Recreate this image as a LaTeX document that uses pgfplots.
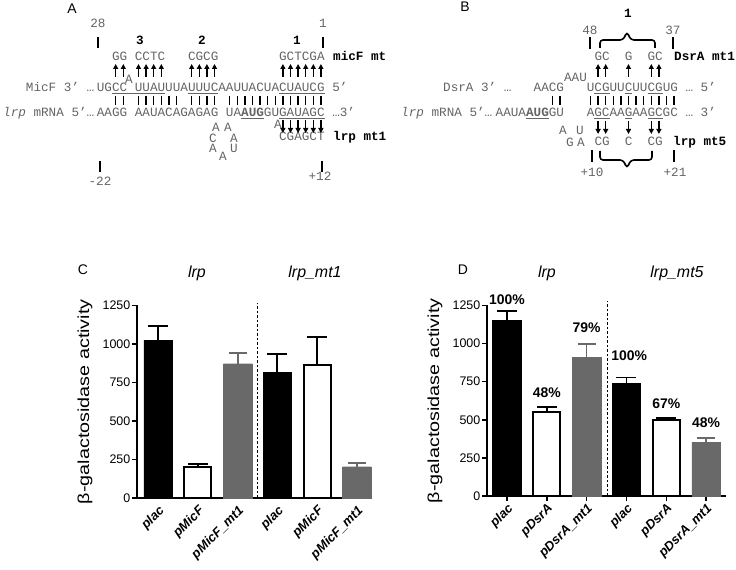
\documentclass[border=0pt]{standalone}
\usepackage{fontspec}
\setmainfont{Liberation Sans}
\setmonofont{Liberation Mono}
\usepackage{graphicx}
\usepackage{pgfplots}
\pgfplotsset{compat=1.18}
\usetikzlibrary{arrows.meta}
\definecolor{seqgray}{RGB}{100,100,100}
\definecolor{bargray}{RGB}{105,105,105}
\newcommand{\sq}{\ttfamily\fontsize{12.7}{14}\selectfont}
\tikzset{upar/.style={line width=1.4bp,-{Triangle[length=5bp,width=5bp]}},
         pair/.style={line width=1.5bp}}
\pgfplotsset{
  barax/.style={scale only axis, anchor=south west, ymin=0, ymax=1250,
    axis x line=bottom, axis y line=left, axis line style={-, line width=1.6bp},
    ytick={0,250,500,750,1000,1250}, xtick={0,...,5},
    tick align=outside, major tick length=5bp,
    ytick style={line width=1.5bp, black},
    x tick label style={rotate=45, anchor=north east, inner sep=1bp,
      font=\fontsize{13}{15}\selectfont\bfseries\itshape},
    y tick label style={inner sep=1.5bp, font=\fontsize{12.5}{14}\selectfont},
    /pgf/number format/assume math mode=true,
    /pgf/number format/set thousands separator={},
    clip=false,
    ylabel={\scalebox{1.24}[1]{β-galactosidase activity}},
    ylabel style={font=\fontsize{16}{18}\selectfont, anchor=center},
  },
  barblack/.style={ybar, bar width=28.5bp, bar shift=0pt, fill=black, draw=black,
    error bars/.cd, y dir=plus, y explicit,
    error bar style={line width=1.8bp, black},
    error mark options={rotate=90, line width=1.8bp, mark size=10bp, black}},
  barwhite/.style={ybar, bar width=27bp, bar shift=0pt, fill=white, draw=black, line width=2bp,
    error bars/.cd, y dir=plus, y explicit,
    error bar style={line width=1.8bp, black},
    error mark options={rotate=90, line width=1.8bp, mark size=10bp, black}},
  bargrey/.style={ybar, bar width=28.5bp, bar shift=0pt, fill=bargray, draw=bargray,
    error bars/.cd, y dir=plus, y explicit,
    error bar style={line width=1.8bp, bargray},
    error mark options={rotate=90, line width=1.8bp, mark size=9bp, bargray}},
}
\begin{document}
\begin{tikzpicture}
\useasboundingbox (0,0) rectangle (736bp,570bp);
\begin{scope}[shift={(0bp,570bp)}, x=1bp, y=-1bp]
 \node[font=\fontsize{14}{16}\selectfont] at (72,9) {A};
 \node[font=\fontsize{14}{16}\selectfont] at (465,7) {B};
 \node[font=\fontsize{14}{16}\selectfont] at (83,270) {C};
 \node[font=\fontsize{14}{16}\selectfont] at (463,270) {D};
 \node[font=\fontsize{16}{18}\selectfont\itshape] at (197,273) {lrp};
 \node[font=\fontsize{16}{18}\selectfont\itshape] at (315,273) {lrp\_mt1};
 \node[font=\fontsize{16}{18}\selectfont\itshape] at (547,273) {lrp};
 \node[font=\fontsize{16}{18}\selectfont\itshape] at (677,273) {lrp\_mt5};
 % ---------- Panel A ----------
 \begin{scope}[every node/.style={inner sep=0, text=seqgray, font=\sq}]
  \node at (98,23) {28};
  \node at (323,23) {1};
  \node[text=black, font=\sq\bfseries] at (140,40) {3};
  \node[text=black, font=\sq\bfseries] at (202,40) {2};
  \node[text=black, font=\sq\bfseries] at (297,40) {1};
  \node[anchor=base west] at (96.7,61) {~~GG~CCTC~~~CGCG~~~~~~~~GCTCGA};
  \node[anchor=base west, text=black, font=\sq\bfseries] at (333,61) {micF mt};
  \node at (129,79) {A};
  \node[anchor=base east] at (94.5,92) {MicF~3’~…};
  \node[anchor=base west] at (96.7,92) {UG\underline{CC~UUAU}UUA\underline{UUUC}AAUUACUA\underline{CUAUCG}~5’};
  \node[anchor=base east] at (94.5,116.5) {\textit{lrp}~mRNA~5’…};
  \node[anchor=base west] at (96.7,116.5) {AAGG~AAUACAGAGAG~UA\underline{\textbf{AUG}}GU\underline{GAUAGC}~…3’};
  \node at (216,127) {A}; \node at (228,127) {A};
  \node at (213,138) {C}; \node at (234,138) {A};
  \node at (213,148) {A}; \node at (223,156) {A}; \node at (234,148) {U};
  \node at (278,124) {A};
  \node[anchor=base west] at (96.7,141) {~~~~~~~~~~~~~~~~~~~~~~~~CGAGCT};
  \node[anchor=base west, text=black, font=\sq\bfseries] at (333,141) {lrp mt1};
  \node at (100,181) {-22};
  \node at (320,176) {+12};
 \end{scope}
 \draw[pair] (98,37) -- (98,48);
 \draw[pair] (323,37) -- (323,48);
 \draw[pair] (100,161) -- (100,172);
 \draw[pair] (322,161) -- (322,172);
 \foreach \i in {2,3,5,6,7,8,12,13,14,15,24,25,26,27,28,29}
   \draw[upar] ({100.5+7.6*\i},77) -- ({100.5+7.6*\i},64);
 \foreach \i in {2,3,5,6,7,8,9,10,12,13,14,15,17,18,...,29}
   \draw[pair] ({100.5+7.6*\i},96) -- ({100.5+7.6*\i},105);
 \foreach \i in {24,...,29}
   \draw[upar] ({100.5+7.6*\i},120) -- ({100.5+7.6*\i},133);
 % ---------- Panel B ----------
 \begin{scope}[every node/.style={inner sep=0, text=seqgray, font=\sq}]
  \node[text=black, font=\sq\bfseries] at (628,13) {1};
  \node at (590,30) {48};
  \node at (673,30) {37};
  \node[anchor=base west] at ({533.5+7.6*8},61) {GC~~G~~GC};
  \node[anchor=base west, text=black, font=\sq\bfseries] at (674,61) {DsrA mt1};
  \node[anchor=base west] at ({533.5+7.6*4},82) {AAU};
  \node[anchor=base west] at (443,92) {DsrA~3’~…};
  \node[anchor=base west] at (533.5,92) {AACG~~~U\underline{CG}UU\underline{C}UU\underline{CG}UG~…~5’};
  \node[anchor=base west] at (401,116.5) {\textit{lrp}~mRNA~5’…};
  \node[anchor=base west] at ({533.5-7.6*5},116.5) {AAUA\underline{\textbf{AUG}}GU~~~A\underline{GC}AA\underline{G}AA\underline{GC}GC~…~3’};
  \node at (563,130) {A}; \node at (580,130) {U};
  \node at (570,142) {G}; \node at (581,142) {A};
  \node[anchor=base west] at ({533.5+7.6*8},146) {CG~~C~~CG};
  \node[anchor=base west, text=black, font=\sq\bfseries] at (673,146) {lrp mt5};
  \node at (592,172) {+10};
  \node at (675,172) {+21};
 \end{scope}
 \draw[pair] (590,37) -- (590,49);
 \draw[pair] (673,37) -- (673,49);
 \draw[pair] (592,150) -- (592,162);
 \draw[pair] (674,150) -- (674,162);
 \draw[line width=1.6bp, rounded corners=3bp] (600,48) -- (600,40) -- (623,40) -- (627,32) -- (631,40) -- (655,40) -- (655,48);
 \draw[line width=1.6bp, rounded corners=3bp] (600,151) -- (600,160) -- (623,160) -- (627,168) -- (631,160) -- (652,160) -- (652,151);
 \foreach \i in {8,9,12,15,16}
   \draw[upar] ({537.3+7.6*\i},77) -- ({537.3+7.6*\i},64);
 \foreach \i in {2,3,7,8,...,18}
   \draw[pair] ({537.3+7.6*\i},96) -- ({537.3+7.6*\i},105);
 \foreach \i in {8,9,12,15,16}
   \draw[upar] ({537.3+7.6*\i},121) -- ({537.3+7.6*\i},134);
\end{scope}
% ---------- Panel C ----------
\begin{axis}[barax, at={(137bp,72bp)}, width=235bp, height=192.5bp,
  xmin=-0.53, xmax=5.38, xtick style={draw=none},
  xticklabels={plac,pMicF,pMicF\_mt1,plac,pMicF,pMicF\_mt1},
  ylabel style={at={(axis description cs:-0.221,0.5)}}]
\addplot[barblack] table[x=x,y=y,y error=e] {
x y e
0 1025 92
3 818 119
};
\addplot[barwhite] table[x=x,y=y,y error=e] {
x y e
1 203 17
4 864 179
};
\addplot[bargrey] table[x=x,y=y,y error=e] {
x y e
2 872 68
5 203 26
};
\draw[line width=1.1bp, dash pattern=on 2.5bp off 2bp] (axis cs:2.5,0) -- (axis cs:2.5,1265);
\end{axis}
% ---------- Panel D ----------
\begin{axis}[barax, at={(487bp,74bp)}, width=239bp, height=190.5bp,
  xmin=-0.5, xmax=5.5, xtick style={line width=1.5bp, black},
  xticklabels={plac,pDsrA,pDsrA\_mt1,plac,pDsrA,pDsrA\_mt1},
  ylabel style={at={(axis description cs:-0.218,0.5)}}]
\addplot[barblack] table[x=x,y=y,y error=e] {
x y e
0 1153 59
3 737 40
};
\addplot[barwhite] table[x=x,y=y,y error=e] {
x y e
1 554 30
4 497 15
};
\addplot[bargrey] table[x=x,y=y,y error=e] {
x y e
2 908 89
5 354 29
};
\draw[line width=1.1bp, dash pattern=on 2.5bp off 2bp] (axis cs:2.52,0) -- (axis cs:2.52,1280);
\begin{scope}[every node/.style={font=\fontsize{14}{16}\selectfont\bfseries}]
\node at (axis cs:0,1291) {100\%};
\node at (axis cs:1,681) {48\%};
\node at (axis cs:2,1107) {79\%};
\node at (axis cs:3.07,923) {100\%};
\node at (axis cs:4,607) {67\%};
\node at (axis cs:5,483) {48\%};
\end{scope}
\end{axis}
\end{tikzpicture}
\end{document}
